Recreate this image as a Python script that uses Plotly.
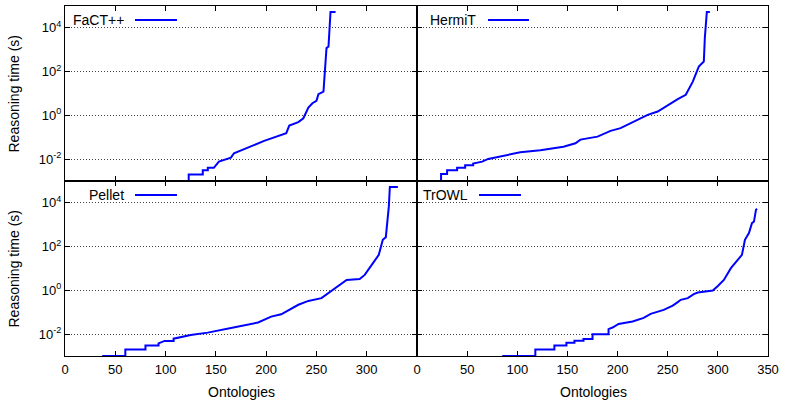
import plotly.graph_objects as go

# ---- data ----
fact_x = [100, 123, 123, 137, 137, 142, 142, 148, 153, 165, 168, 182, 198, 220, 223, 232, 237, 242, 246, 250, 252, 257, 260, 262, 264, 269]
fact_y = [0.001, 0.001, 0.002, 0.002, 0.0031, 0.0031, 0.004, 0.004, 0.0077, 0.0117, 0.0186, 0.034, 0.068, 0.153, 0.34, 0.49, 0.74, 2.3, 3.6, 4.6, 9.3, 12.3, 1190, 1400, 53000, 53000]

hermit_x = [13, 24, 24, 30, 30, 40, 40, 48, 48, 56, 56, 65, 71, 90, 103, 123, 146, 158, 163, 180, 193, 203, 216, 230, 240, 250, 260, 268, 275, 281, 286, 287, 289, 292]
hermit_y = [0.001, 0.001, 0.0021, 0.0021, 0.0031, 0.0031, 0.004, 0.004, 0.0052, 0.0052, 0.0063, 0.0077, 0.0102, 0.0155, 0.0205, 0.0256, 0.037, 0.053, 0.078, 0.107, 0.195, 0.26, 0.49, 1.05, 1.5, 3.0, 5.5, 8.7, 35, 171, 290, 3400, 53000, 53000]

pellet_x = [37, 60, 60, 80, 80, 93, 93, 99, 108, 108, 125, 142, 165, 192, 205, 215, 232, 242, 255, 262, 272, 280, 293, 298, 305, 312, 316, 319, 322, 323, 331]
pellet_y = [0.001, 0.001, 0.002, 0.002, 0.003, 0.003, 0.0038, 0.0049, 0.0049, 0.0062, 0.0092, 0.0117, 0.019, 0.034, 0.063, 0.081, 0.22, 0.33, 0.44, 0.74, 1.6, 3.0, 3.3, 5.1, 14.7, 42, 204, 270, 6900, 53000, 53000]

trowl_x = [85, 118, 118, 137, 137, 149, 149, 157, 157, 166, 166, 175, 175, 191, 191, 195, 201, 215, 226, 233, 246, 255, 260, 263, 270, 276, 280, 295, 300, 306, 313, 320, 324, 327, 331, 334, 336, 338, 339]
trowl_y = [0.001, 0.001, 0.002, 0.002, 0.003, 0.003, 0.004, 0.004, 0.005, 0.005, 0.006, 0.006, 0.01, 0.01, 0.017, 0.02, 0.029, 0.038, 0.055, 0.084, 0.128, 0.2, 0.29, 0.37, 0.44, 0.67, 0.8, 0.98, 1.6, 3.0, 10.4, 25, 42, 204, 415, 1190, 1400, 4800, 5400]

names = ["FaCT++", "HermiT", "Pellet", "TrOWL"]
x_ticks = [0, 50, 100, 150, 200, 250, 300, 350]
y_ticks = [1e-2, 1, 1e2, 1e4]
y_ticktext = ["10<sup>-2</sup>", "10<sup>0</sup>", "10<sup>2</sup>", "10<sup>4</sup>"]

W, H = 785, 404
ML, MR, MT, MB = 65, 17, 6, 48
PW, PH = W - ML - MR, H - MT - MB

def px(xp):
    return (xp - ML) / PW

def py(yp):
    return (H - MB - yp) / PH

xsplit = px(417)

fig = go.Figure()
series = [(fact_x, fact_y), (hermit_x, hermit_y), (pellet_x, pellet_y), (trowl_x, trowl_y)]
axes = [("x", "y"), ("x2", "y2"), ("x3", "y3"), ("x4", "y4")]
for (xs, ys), (xa, ya), n in zip(series, axes, names):
    fig.add_trace(go.Scatter(x=xs, y=ys, mode="lines", name=n, xaxis=xa, yaxis=ya,
                             line=dict(color="#0000ff", width=2), showlegend=False))

font = dict(family="Liberation Sans, Arial, sans-serif", size=13, color="black")

def xaxis(domain, anchor, labels, ticktext=None):
    d = dict(domain=domain, anchor=anchor, range=[0, 350], showgrid=False,
             tickvals=x_ticks, ticks="inside", ticklen=5, tickwidth=1, tickcolor="black",
             showline=True, linecolor="black", linewidth=1, mirror="ticks",
             showticklabels=labels, zeroline=False, tickfont=font, ticklabelstandoff=1)
    if ticktext is not None:
        d["ticktext"] = ticktext
    return d

def yaxis(domain, anchor, labels):
    return dict(domain=domain, anchor=anchor, type="log", range=[-3, 5],
                tickvals=y_ticks, ticktext=y_ticktext, showgrid=True,
                gridcolor="#444444", griddash="1px,2px", gridwidth=1,
                ticks="inside", ticklen=5, tickwidth=1, tickcolor="black",
                showline=True, linecolor="black", linewidth=1, mirror="ticks",
                showticklabels=labels, zeroline=False, tickfont=font)

left_tt = ["0", "50", "100", "150", "200", "250", "300", " "]
fig.update_layout(
    width=W, height=H, margin=dict(l=ML, r=MR, t=MT, b=MB),
    paper_bgcolor="white", plot_bgcolor="white", font=font,
    xaxis=xaxis([0, xsplit], "y", False),
    yaxis=yaxis([0.5, 1], "x", True),
    xaxis2=xaxis([xsplit, 1], "y2", False),
    yaxis2=yaxis([0.5, 1], "x2", False),
    xaxis3=xaxis([0, xsplit], "y3", True, left_tt),
    yaxis3=yaxis([0, 0.5], "x3", True),
    xaxis4=xaxis([xsplit, 1], "y4", True),
    yaxis4=yaxis([0, 0.5], "x4", False),
)

tfont = dict(family="Liberation Sans, Arial, sans-serif", size=14, color="black")
ann = []
for yc in (93.5, 268.5):
    ann.append(dict(text="Reasoning time (s)", xref="paper", yref="paper", x=px(13), y=py(yc),
                    textangle=-90, showarrow=False, font=tfont, xanchor="center", yanchor="middle"))
for xc in (241, 593):
    ann.append(dict(text="Ontologies", xref="paper", yref="paper", x=px(xc), y=py(392),
                    showarrow=False, font=tfont, xanchor="center", yanchor="middle"))

# legend entries: text right-aligned, then a line sample
legend_pos = [(126, 20, 135, 177), (478, 20, 488, 529), (126, 195, 135, 177), (470, 195, 479, 521)]
shapes = []
for n, (tx, ty, l0, l1) in zip(names, legend_pos):
    ann.append(dict(text=n, xref="paper", yref="paper", x=px(tx), y=py(ty), showarrow=False,
                    font=tfont, xanchor="right", yanchor="middle"))
    shapes.append(dict(type="line", xref="paper", yref="paper", x0=px(l0), x1=px(l1),
                       y0=py(ty), y1=py(ty), line=dict(color="#0000ff", width=2)))

fig.update_layout(annotations=ann, shapes=shapes)
fig.write_html("out.html", config={"displayModeBar": False},
               post_script="document.body.style.margin='0px';")
